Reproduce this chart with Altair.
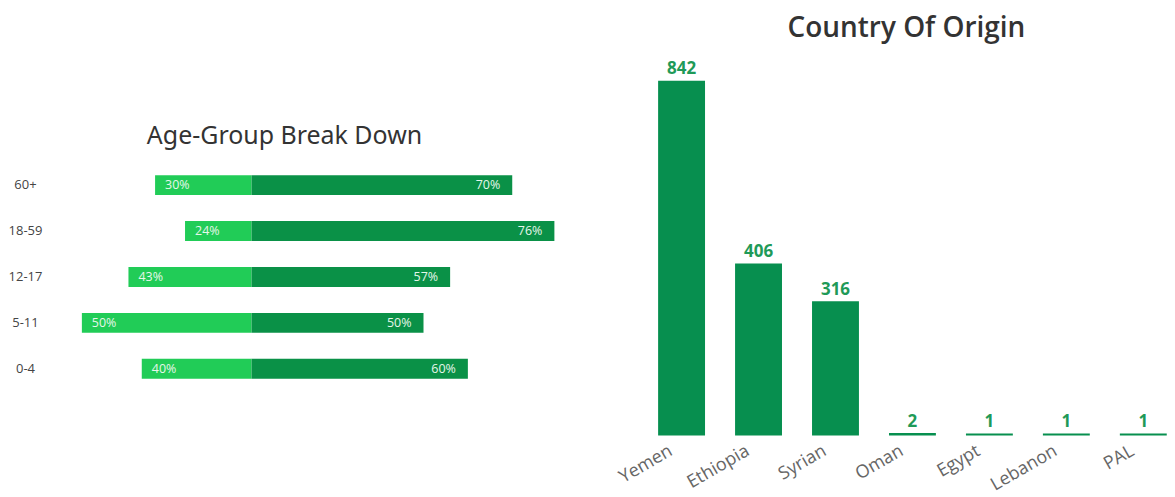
import altair as alt
import pandas as pd

# ---- Age-group break down data ----
age_groups = ["60+", "18-59", "12-17", "5-11", "0-4"]
left_counts = [87, 60, 111, 153, 99]
right_counts = [235, 273, 179, 155, 195]
left_pct = ["30%", "24%", "43%", "50%", "40%"]
right_pct = ["70%", "76%", "57%", "50%", "60%"]

# ---- Country of origin data ----
countries = ["Yemen", "Ethiopia", "Syrian", "Oman", "Egypt", "Lebanon", "PAL"]
country_counts = [842, 406, 316, 2, 1, 1, 1]

LIGHT = "#21CC57"
DARK = "#0A9147"
BAR = "#078F4F"
VAL = "#1F9A58"

age_df = pd.DataFrame({
    "group": age_groups * 2,
    "side": ["L"] * len(age_groups) + ["R"] * len(age_groups),
    "value": [-v for v in left_counts] + right_counts,
    "label": left_pct + right_pct,
})

ybase = alt.Y(
    "group:N",
    sort=age_groups,
    scale=alt.Scale(range=[101, 331], paddingInner=0.565, paddingOuter=0.2825),
    axis=alt.Axis(title=None, domain=False, ticks=False, labelAlign="center",
                  labelPadding=37, labelFontSize=13, labelColor="#444444",
                  labelFont="Open Sans"),
)
xbase = alt.X("value:Q", scale=alt.Scale(domain=[-171, 315]), axis=None)

base_l = alt.Chart(age_df)
bars_l = base_l.mark_bar().encode(
    x=xbase,
    y=ybase,
    color=alt.Color("side:N", scale=alt.Scale(domain=["L", "R"], range=[LIGHT, DARK]), legend=None),
)
txt_left = base_l.transform_filter(alt.datum.side == "L").mark_text(
    align="left", dx=10, fontSize=12.5, color="#E6F7EA", font="Open Sans"
).encode(x=xbase, y=ybase, text="label:N")
txt_right = base_l.transform_filter(alt.datum.side == "R").mark_text(
    align="right", dx=-12, fontSize=12.5, color="#E6F7EA", font="Open Sans"
).encode(x=xbase, y=ybase, text="label:N")

left = alt.layer(bars_l, txt_left, txt_right).properties(
    width=540, height=374,
    title=alt.TitleParams("Age-Group Break Down", fontSize=25, font="Noto Sans",
                          fontWeight="normal", color="#333333", anchor="middle",
                          offset=14, dx=-47, dy=102),
)

country_df = pd.DataFrame({"country": countries, "count": country_counts})
xc = alt.X("country:N", sort=countries,
           scale=alt.Scale(paddingInner=0.41, paddingOuter=0),
           axis=alt.Axis(title=None, labelAngle=-30, labelFontSize=18,
                         labelColor="#666666", labelFont="Open Sans",
                         domain=False, ticks=False, labelPadding=7, labelOffset=-15))
yc = alt.Y("count:Q", scale=alt.Scale(domain=[0, 890]), axis=None)
base_r = alt.Chart(country_df)
bars_r = base_r.mark_bar(color=BAR, stroke=BAR, strokeWidth=1.5).encode(x=xc, y=yc)
vals_r = base_r.mark_text(baseline="bottom", dy=-3, fontSize=17, fontWeight="bold",
                          color=VAL, font="Open Sans").encode(x=xc, y=yc, text="count:Q")
right = alt.layer(bars_r, vals_r).properties(
    width=508, height=374,
    title=alt.TitleParams("Country Of Origin", fontSize=28, font="Open Sans",
                          fontWeight=600, color="#333333", anchor="middle",
                          offset=18, dx=-6),
)

chart = alt.hconcat(left, right, spacing=58, bounds="flush").properties(
    padding={"left": 0, "top": 6, "right": 0, "bottom": 0}
).configure_view(stroke=None)

chart.save("out.html", embed_options={"renderer": "svg", "actions": False})
